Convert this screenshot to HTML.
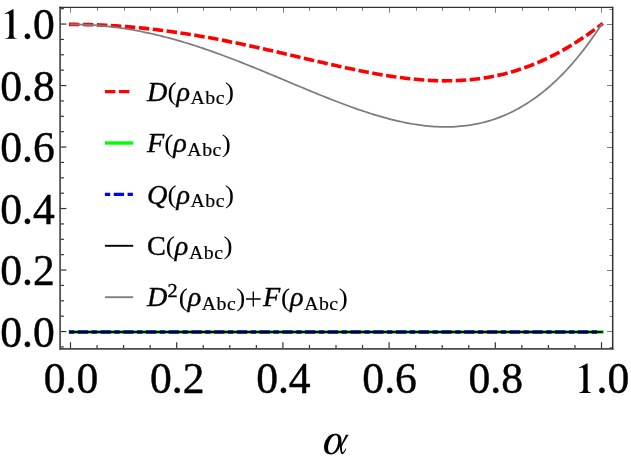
<!DOCTYPE html>
<html><head><meta charset="utf-8"><title>plot</title>
<style>
html,body{margin:0;padding:0;background:#fff;}
body{width:631px;height:466px;overflow:hidden;}
svg{display:block;will-change:transform;}
text{font-family:"Liberation Serif",serif;fill:#000;}
.tk{font-size:43.6px;stroke:#000;stroke-width:0.45px;stroke-linejoin:round;}
.lg{font-size:26.5px;stroke:#000;stroke-width:0.35px;}
.it{font-style:italic;}
.sb{font-size:18.6px;letter-spacing:0.47px;stroke-width:0.2px;}
.sp{font-size:19px;}
.pr{font-size:25.5px;stroke-width:0;}
.hid{fill:none;stroke:none;}
.ax{font-size:46px;font-style:italic;}
</style></head><body>
<svg width="631" height="466" viewBox="0 0 631 466">
<rect x="0" y="0" width="631" height="466" fill="#fff"/>
<!-- curves -->
<path d="M68.90 24.40 L73.16 24.41 L75.81 24.42 L78.47 24.45 L81.12 24.48 L83.78 24.53 L86.43 24.58 L89.09 24.65 L91.74 24.73 L94.39 24.81 L97.05 24.91 L99.70 25.02 L102.36 25.14 L105.02 25.26 L107.67 25.40 L110.32 25.55 L112.98 25.71 L115.64 25.87 L118.29 26.05 L120.94 26.24 L123.60 26.44 L126.25 26.64 L128.91 26.86 L131.56 27.09 L134.22 27.32 L136.88 27.57 L139.53 27.83 L142.19 28.09 L144.84 28.36 L147.50 28.65 L150.15 28.94 L152.81 29.24 L155.46 29.56 L158.12 29.88 L160.77 30.21 L163.43 30.55 L166.08 30.90 L168.74 31.25 L171.39 31.62 L174.05 31.99 L176.70 32.38 L179.35 32.77 L182.01 33.17 L184.66 33.57 L187.32 33.99 L189.98 34.42 L192.63 34.85 L195.28 35.29 L197.94 35.74 L200.59 36.19 L203.25 36.66 L205.91 37.13 L208.56 37.60 L211.22 38.09 L213.87 38.58 L216.53 39.08 L219.18 39.59 L221.83 40.10 L224.49 40.62 L227.14 41.14 L229.80 41.67 L232.45 42.21 L235.11 42.76 L237.77 43.30 L240.42 43.86 L243.08 44.42 L245.73 44.98 L248.39 45.55 L251.04 46.13 L253.69 46.70 L256.35 47.29 L259.00 47.88 L261.66 48.47 L264.31 49.06 L266.97 49.66 L269.62 50.26 L272.28 50.87 L274.94 51.47 L277.59 52.08 L280.25 52.70 L282.90 53.31 L285.56 53.93 L288.21 54.55 L290.87 55.16 L293.52 55.78 L296.17 56.41 L298.83 57.03 L301.49 57.65 L304.14 58.27 L306.80 58.89 L309.45 59.51 L312.11 60.13 L314.76 60.75 L317.42 61.36 L320.07 61.98 L322.73 62.59 L325.38 63.20 L328.03 63.80 L330.69 64.40 L333.34 65.00 L336.00 65.60 L338.66 66.19 L341.31 66.77 L343.97 67.35 L346.62 67.92 L349.28 68.49 L351.93 69.05 L354.59 69.60 L357.24 70.15 L359.90 70.69 L362.55 71.22 L365.21 71.74 L367.86 72.25 L370.51 72.75 L373.17 73.24 L375.82 73.73 L378.48 74.19 L381.13 74.65 L383.79 75.10 L386.44 75.53 L389.10 75.95 L391.75 76.36 L394.41 76.75 L397.06 77.13 L399.72 77.49 L402.38 77.84 L405.03 78.17 L407.69 78.49 L410.34 78.78 L413.00 79.06 L415.65 79.32 L418.31 79.57 L420.96 79.79 L423.62 79.99 L426.27 80.17 L428.93 80.33 L431.58 80.47 L434.24 80.59 L436.89 80.68 L439.54 80.75 L442.20 80.80 L444.85 80.83 L447.51 80.82 L450.16 80.80 L452.82 80.74 L455.47 80.66 L458.13 80.56 L460.78 80.42 L463.44 80.26 L466.09 80.07 L468.75 79.85 L471.41 79.60 L474.06 79.32 L476.72 79.01 L479.37 78.67 L482.03 78.30 L484.68 77.89 L487.34 77.46 L489.99 76.99 L492.65 76.49 L495.30 75.95 L497.96 75.38 L500.61 74.78 L503.26 74.14 L505.92 73.47 L508.57 72.77 L511.23 72.02 L513.88 71.24 L516.54 70.43 L519.19 69.58 L521.85 68.69 L524.50 67.77 L527.16 66.81 L529.82 65.81 L532.47 64.77 L535.12 63.70 L537.78 62.59 L540.43 61.44 L543.09 60.25 L545.75 59.02 L548.40 57.76 L551.06 56.46 L553.71 55.12 L556.37 53.74 L559.02 52.32 L561.67 50.86 L564.33 49.37 L566.99 47.83 L569.64 46.26 L572.29 44.65 L574.95 43.00 L577.61 41.31 L580.26 39.59 L582.91 37.82 L585.57 36.02 L588.23 34.18 L590.88 32.30 L593.53 30.38 L596.19 28.42 L598.85 26.43 L602.77 23.43" fill="none" stroke="#f00" stroke-width="3.6" stroke-dasharray="10.5 3.5" stroke-linejoin="round"/>
<path d="M69.90 24.40 L73.16 24.41 L75.81 24.44 L78.47 24.49 L81.12 24.56 L83.78 24.66 L86.43 24.77 L89.09 24.90 L91.74 25.05 L94.39 25.23 L97.05 25.42 L99.70 25.64 L102.36 25.87 L105.02 26.12 L107.67 26.40 L110.32 26.69 L112.98 27.01 L115.64 27.34 L118.29 27.69 L120.94 28.07 L123.60 28.46 L126.25 28.87 L128.91 29.30 L131.56 29.75 L134.22 30.22 L136.88 30.71 L139.53 31.21 L142.19 31.74 L144.84 32.28 L147.50 32.84 L150.15 33.42 L152.81 34.01 L155.46 34.63 L158.12 35.26 L160.77 35.91 L163.43 36.57 L166.08 37.25 L168.74 37.95 L171.39 38.67 L174.05 39.40 L176.70 40.14 L179.35 40.91 L182.01 41.68 L184.66 42.48 L187.32 43.28 L189.98 44.11 L192.63 44.94 L195.28 45.79 L197.94 46.66 L200.59 47.53 L203.25 48.42 L205.91 49.33 L208.56 50.24 L211.22 51.17 L213.87 52.11 L216.53 53.06 L219.18 54.02 L221.83 55.00 L224.49 55.98 L227.14 56.98 L229.80 57.98 L232.45 58.99 L235.11 60.01 L237.77 61.05 L240.42 62.08 L243.08 63.13 L245.73 64.19 L248.39 65.25 L251.04 66.32 L253.69 67.39 L256.35 68.47 L259.00 69.56 L261.66 70.65 L264.31 71.75 L266.97 72.84 L269.62 73.95 L272.28 75.05 L274.94 76.16 L277.59 77.28 L280.25 78.39 L282.90 79.50 L285.56 80.62 L288.21 81.74 L290.87 82.85 L293.52 83.97 L296.17 85.08 L298.83 86.19 L301.49 87.30 L304.14 88.41 L306.80 89.51 L309.45 90.61 L312.11 91.71 L314.76 92.80 L317.42 93.88 L320.07 94.96 L322.73 96.03 L325.38 97.10 L328.03 98.16 L330.69 99.21 L333.34 100.24 L336.00 101.27 L338.66 102.29 L341.31 103.30 L343.97 104.30 L346.62 105.29 L349.28 106.26 L351.93 107.22 L354.59 108.16 L357.24 109.09 L359.90 110.01 L362.55 110.91 L365.21 111.79 L367.86 112.65 L370.51 113.50 L373.17 114.33 L375.82 115.14 L378.48 115.93 L381.13 116.69 L383.79 117.44 L386.44 118.16 L389.10 118.86 L391.75 119.54 L394.41 120.19 L397.06 120.82 L399.72 121.42 L402.38 122.00 L405.03 122.54 L407.69 123.06 L410.34 123.55 L413.00 124.01 L415.65 124.44 L418.31 124.83 L420.96 125.20 L423.62 125.53 L426.27 125.83 L428.93 126.09 L431.58 126.32 L434.24 126.51 L436.89 126.67 L439.54 126.78 L442.20 126.86 L444.85 126.90 L447.51 126.89 L450.16 126.85 L452.82 126.76 L455.47 126.63 L458.13 126.46 L460.78 126.24 L463.44 125.97 L466.09 125.66 L468.75 125.30 L471.41 124.89 L474.06 124.43 L476.72 123.92 L479.37 123.36 L482.03 122.75 L484.68 122.08 L487.34 121.36 L489.99 120.59 L492.65 119.75 L495.30 118.86 L497.96 117.92 L500.61 116.91 L503.26 115.84 L505.92 114.71 L508.57 113.52 L511.23 112.27 L513.88 110.95 L516.54 109.57 L519.19 108.12 L521.85 106.60 L524.50 105.02 L527.16 103.36 L529.82 101.64 L532.47 99.84 L535.12 97.97 L537.78 96.03 L540.43 94.01 L543.09 91.92 L545.75 89.75 L548.40 87.50 L551.06 85.17 L553.71 82.76 L556.37 80.27 L559.02 77.70 L561.67 75.05 L564.33 72.31 L566.99 69.48 L569.64 66.57 L572.29 63.57 L574.95 60.48 L577.61 57.30 L580.26 54.02 L582.91 50.66 L585.57 47.20 L588.23 43.64 L590.88 39.99 L593.53 36.24 L596.19 32.40 L598.85 28.45 L601.83 23.90" fill="none" stroke="#7c7c7c" stroke-width="1.75" stroke-linejoin="round"/>
<line x1="68.9" y1="332" x2="603.6" y2="332" stroke="#0f0" stroke-width="3.7"/>
<line x1="68.9" y1="332" x2="600.2" y2="332" stroke="#00f" stroke-width="3.7" stroke-dasharray="5.3 3.55 10.33 3.55"/>
<line x1="69.8" y1="332" x2="602.9" y2="332" stroke="#000" stroke-width="2"/>
<!-- frame -->
<line x1="70.50" y1="348.8" x2="70.50" y2="342.20" stroke="#333" stroke-width="1.2"/>
<line x1="70.50" y1="7.3" x2="70.50" y2="12.70" stroke="#7a7a7a" stroke-width="1"/>
<line x1="97.05" y1="348.8" x2="97.05" y2="344.90" stroke="#333" stroke-width="1.2"/>
<line x1="97.50" y1="7.3" x2="97.50" y2="10.70" stroke="#7a7a7a" stroke-width="1"/>
<line x1="123.60" y1="348.8" x2="123.60" y2="344.90" stroke="#333" stroke-width="1.2"/>
<line x1="124.50" y1="7.3" x2="124.50" y2="10.70" stroke="#7a7a7a" stroke-width="1"/>
<line x1="150.15" y1="348.8" x2="150.15" y2="344.90" stroke="#333" stroke-width="1.2"/>
<line x1="150.50" y1="7.3" x2="150.50" y2="10.70" stroke="#7a7a7a" stroke-width="1"/>
<line x1="176.70" y1="348.8" x2="176.70" y2="342.20" stroke="#333" stroke-width="1.2"/>
<line x1="177.50" y1="7.3" x2="177.50" y2="12.70" stroke="#7a7a7a" stroke-width="1"/>
<line x1="203.25" y1="348.8" x2="203.25" y2="344.90" stroke="#333" stroke-width="1.2"/>
<line x1="203.50" y1="7.3" x2="203.50" y2="10.70" stroke="#7a7a7a" stroke-width="1"/>
<line x1="229.80" y1="348.8" x2="229.80" y2="344.90" stroke="#333" stroke-width="1.2"/>
<line x1="230.50" y1="7.3" x2="230.50" y2="10.70" stroke="#7a7a7a" stroke-width="1"/>
<line x1="256.35" y1="348.8" x2="256.35" y2="344.90" stroke="#333" stroke-width="1.2"/>
<line x1="256.50" y1="7.3" x2="256.50" y2="10.70" stroke="#7a7a7a" stroke-width="1"/>
<line x1="282.90" y1="348.8" x2="282.90" y2="342.20" stroke="#333" stroke-width="1.2"/>
<line x1="283.50" y1="7.3" x2="283.50" y2="12.70" stroke="#7a7a7a" stroke-width="1"/>
<line x1="309.45" y1="348.8" x2="309.45" y2="344.90" stroke="#333" stroke-width="1.2"/>
<line x1="309.50" y1="7.3" x2="309.50" y2="10.70" stroke="#7a7a7a" stroke-width="1"/>
<line x1="336.00" y1="348.8" x2="336.00" y2="344.90" stroke="#333" stroke-width="1.2"/>
<line x1="336.50" y1="7.3" x2="336.50" y2="10.70" stroke="#7a7a7a" stroke-width="1"/>
<line x1="362.55" y1="348.8" x2="362.55" y2="344.90" stroke="#333" stroke-width="1.2"/>
<line x1="362.50" y1="7.3" x2="362.50" y2="10.70" stroke="#7a7a7a" stroke-width="1"/>
<line x1="389.10" y1="348.8" x2="389.10" y2="342.20" stroke="#333" stroke-width="1.2"/>
<line x1="389.50" y1="7.3" x2="389.50" y2="12.70" stroke="#7a7a7a" stroke-width="1"/>
<line x1="415.65" y1="348.8" x2="415.65" y2="344.90" stroke="#333" stroke-width="1.2"/>
<line x1="416.50" y1="7.3" x2="416.50" y2="10.70" stroke="#7a7a7a" stroke-width="1"/>
<line x1="442.20" y1="348.8" x2="442.20" y2="344.90" stroke="#333" stroke-width="1.2"/>
<line x1="442.50" y1="7.3" x2="442.50" y2="10.70" stroke="#7a7a7a" stroke-width="1"/>
<line x1="468.75" y1="348.8" x2="468.75" y2="344.90" stroke="#333" stroke-width="1.2"/>
<line x1="469.50" y1="7.3" x2="469.50" y2="10.70" stroke="#7a7a7a" stroke-width="1"/>
<line x1="495.30" y1="348.8" x2="495.30" y2="342.20" stroke="#333" stroke-width="1.2"/>
<line x1="495.50" y1="7.3" x2="495.50" y2="12.70" stroke="#7a7a7a" stroke-width="1"/>
<line x1="521.85" y1="348.8" x2="521.85" y2="344.90" stroke="#333" stroke-width="1.2"/>
<line x1="522.50" y1="7.3" x2="522.50" y2="10.70" stroke="#7a7a7a" stroke-width="1"/>
<line x1="548.40" y1="348.8" x2="548.40" y2="344.90" stroke="#333" stroke-width="1.2"/>
<line x1="548.50" y1="7.3" x2="548.50" y2="10.70" stroke="#7a7a7a" stroke-width="1"/>
<line x1="574.95" y1="348.8" x2="574.95" y2="344.90" stroke="#333" stroke-width="1.2"/>
<line x1="575.50" y1="7.3" x2="575.50" y2="10.70" stroke="#7a7a7a" stroke-width="1"/>
<line x1="601.50" y1="348.8" x2="601.50" y2="342.20" stroke="#333" stroke-width="1.2"/>
<line x1="601.50" y1="7.3" x2="601.50" y2="12.70" stroke="#7a7a7a" stroke-width="1"/>
<line x1="60.1" y1="346.92" x2="63.90" y2="346.92" stroke="#333" stroke-width="1.2"/>
<line x1="612.5" y1="347.50" x2="609.50" y2="347.50" stroke="#7a7a7a" stroke-width="1"/>
<line x1="60.1" y1="331.55" x2="66.40" y2="331.55" stroke="#333" stroke-width="1.2"/>
<line x1="612.5" y1="331.50" x2="607.00" y2="331.50" stroke="#7a7a7a" stroke-width="1"/>
<line x1="60.1" y1="316.17" x2="63.90" y2="316.17" stroke="#333" stroke-width="1.2"/>
<line x1="612.5" y1="316.50" x2="609.50" y2="316.50" stroke="#7a7a7a" stroke-width="1"/>
<line x1="60.1" y1="300.80" x2="63.90" y2="300.80" stroke="#333" stroke-width="1.2"/>
<line x1="612.5" y1="301.50" x2="609.50" y2="301.50" stroke="#7a7a7a" stroke-width="1"/>
<line x1="60.1" y1="285.42" x2="63.90" y2="285.42" stroke="#333" stroke-width="1.2"/>
<line x1="612.5" y1="285.50" x2="609.50" y2="285.50" stroke="#7a7a7a" stroke-width="1"/>
<line x1="60.1" y1="270.05" x2="66.40" y2="270.05" stroke="#333" stroke-width="1.2"/>
<line x1="612.5" y1="270.50" x2="607.00" y2="270.50" stroke="#7a7a7a" stroke-width="1"/>
<line x1="60.1" y1="254.67" x2="63.90" y2="254.67" stroke="#333" stroke-width="1.2"/>
<line x1="612.5" y1="255.50" x2="609.50" y2="255.50" stroke="#7a7a7a" stroke-width="1"/>
<line x1="60.1" y1="239.30" x2="63.90" y2="239.30" stroke="#333" stroke-width="1.2"/>
<line x1="612.5" y1="239.50" x2="609.50" y2="239.50" stroke="#7a7a7a" stroke-width="1"/>
<line x1="60.1" y1="223.92" x2="63.90" y2="223.92" stroke="#333" stroke-width="1.2"/>
<line x1="612.5" y1="224.50" x2="609.50" y2="224.50" stroke="#7a7a7a" stroke-width="1"/>
<line x1="60.1" y1="208.55" x2="66.40" y2="208.55" stroke="#333" stroke-width="1.2"/>
<line x1="612.5" y1="208.50" x2="607.00" y2="208.50" stroke="#7a7a7a" stroke-width="1"/>
<line x1="60.1" y1="193.17" x2="63.90" y2="193.17" stroke="#333" stroke-width="1.2"/>
<line x1="612.5" y1="193.50" x2="609.50" y2="193.50" stroke="#7a7a7a" stroke-width="1"/>
<line x1="60.1" y1="177.80" x2="63.90" y2="177.80" stroke="#333" stroke-width="1.2"/>
<line x1="612.5" y1="178.50" x2="609.50" y2="178.50" stroke="#7a7a7a" stroke-width="1"/>
<line x1="60.1" y1="162.42" x2="63.90" y2="162.42" stroke="#333" stroke-width="1.2"/>
<line x1="612.5" y1="162.50" x2="609.50" y2="162.50" stroke="#7a7a7a" stroke-width="1"/>
<line x1="60.1" y1="147.05" x2="66.40" y2="147.05" stroke="#333" stroke-width="1.2"/>
<line x1="612.5" y1="147.50" x2="607.00" y2="147.50" stroke="#7a7a7a" stroke-width="1"/>
<line x1="60.1" y1="131.67" x2="63.90" y2="131.67" stroke="#333" stroke-width="1.2"/>
<line x1="612.5" y1="132.50" x2="609.50" y2="132.50" stroke="#7a7a7a" stroke-width="1"/>
<line x1="60.1" y1="116.30" x2="63.90" y2="116.30" stroke="#333" stroke-width="1.2"/>
<line x1="612.5" y1="116.50" x2="609.50" y2="116.50" stroke="#7a7a7a" stroke-width="1"/>
<line x1="60.1" y1="100.92" x2="63.90" y2="100.92" stroke="#333" stroke-width="1.2"/>
<line x1="612.5" y1="101.50" x2="609.50" y2="101.50" stroke="#7a7a7a" stroke-width="1"/>
<line x1="60.1" y1="85.55" x2="66.40" y2="85.55" stroke="#333" stroke-width="1.2"/>
<line x1="612.5" y1="85.50" x2="607.00" y2="85.50" stroke="#7a7a7a" stroke-width="1"/>
<line x1="60.1" y1="70.17" x2="63.90" y2="70.17" stroke="#333" stroke-width="1.2"/>
<line x1="612.5" y1="70.50" x2="609.50" y2="70.50" stroke="#7a7a7a" stroke-width="1"/>
<line x1="60.1" y1="54.80" x2="63.90" y2="54.80" stroke="#333" stroke-width="1.2"/>
<line x1="612.5" y1="55.50" x2="609.50" y2="55.50" stroke="#7a7a7a" stroke-width="1"/>
<line x1="60.1" y1="39.42" x2="63.90" y2="39.42" stroke="#333" stroke-width="1.2"/>
<line x1="612.5" y1="39.50" x2="609.50" y2="39.50" stroke="#7a7a7a" stroke-width="1"/>
<line x1="60.1" y1="24.05" x2="66.40" y2="24.05" stroke="#333" stroke-width="1.2"/>
<line x1="612.5" y1="24.50" x2="607.00" y2="24.50" stroke="#7a7a7a" stroke-width="1"/>
<line x1="60.1" y1="8.67" x2="63.90" y2="8.67" stroke="#333" stroke-width="1.2"/>
<line x1="612.5" y1="9.50" x2="609.50" y2="9.50" stroke="#7a7a7a" stroke-width="1"/>
<line x1="60.1" y1="6.7" x2="60.1" y2="349.6" stroke="#4a4a4a" stroke-width="1.7"/>
<line x1="59.300000000000004" y1="348.8" x2="613.4" y2="348.8" stroke="#4a4a4a" stroke-width="1.7"/>
<line x1="59.300000000000004" y1="7.3" x2="613.1" y2="7.3" stroke="#333" stroke-width="1.2"/>
<line x1="612.7" y1="6.7" x2="612.7" y2="349.6" stroke="#333" stroke-width="1.5"/>
<!-- labels -->
<text x="54.8" y="346.60" text-anchor="end" class="tk">0.0</text>
<text x="71.00" y="393.2" text-anchor="middle" class="tk">0.0</text>
<text x="54.8" y="285.10" text-anchor="end" class="tk">0.2</text>
<text x="177.20" y="393.2" text-anchor="middle" class="tk">0.2</text>
<text x="54.8" y="223.60" text-anchor="end" class="tk">0.4</text>
<text x="283.40" y="393.2" text-anchor="middle" class="tk">0.4</text>
<text x="54.8" y="162.10" text-anchor="end" class="tk">0.6</text>
<text x="389.60" y="393.2" text-anchor="middle" class="tk">0.6</text>
<text x="54.8" y="100.60" text-anchor="end" class="tk">0.8</text>
<text x="495.80" y="393.2" text-anchor="middle" class="tk">0.8</text>
<path transform="translate(0.00,5.00) scale(0.08569)" d="M158 50 L158 340 C158 375 165 385 195 387 L195 395 L62 395 L62 387 C95 385 108 375 108 340 L108 130 C108 105 100 98 90 98 C80 98 70 103 62 107 L58 99 L150 50 Z" fill="#000"/>
<text x="54.8" y="39.10" text-anchor="end" class="tk">.0</text>
<path transform="translate(574.10,359.10) scale(0.08569)" d="M158 50 L158 340 C158 375 165 385 195 387 L195 395 L62 395 L62 387 C95 385 108 375 108 340 L108 130 C108 105 100 98 90 98 C80 98 70 103 62 107 L58 99 L150 50 Z" fill="#000"/>
<text x="596.55" y="393.2" text-anchor="start" class="tk">.0</text>
<g transform="translate(318,428) scale(0.06868)" fill="#000">
<path fill-rule="evenodd" d="M250 85 C150 85 88 190 88 280 C88 350 130 385 190 385 C250 385 300 330 318 270 C322 320 328 350 338 372 C350 392 372 380 392 345 C402 328 408 312 410 300 L398 298 C392 320 375 350 362 352 C352 352 350 330 348 290 C346 250 344 200 340 160 C336 110 300 85 250 85 Z M256 104 C203 104 146 208 146 292 C146 338 164 364 196 364 C248 364 294 264 294 182 C294 134 284 104 256 104 Z"/>
<path d="M447 98 L406 98 C392 130 350 215 330 262 L346 268 C370 220 420 140 447 98 Z"/>
</g>
<!-- legend -->
<line x1="104.9" y1="91.6" x2="129.4" y2="91.6" stroke="#f00" stroke-width="3.4" stroke-dasharray="10.5 3.5"/>
<line x1="104.9" y1="143.0" x2="133.2" y2="143.0" stroke="#0f0" stroke-width="3.4"/>
<line x1="104.9" y1="194.4" x2="133.2" y2="194.4" stroke="#00f" stroke-width="3.4" stroke-dasharray="5.3 3.55 10.3 3.55"/>
<line x1="104.9" y1="245.8" x2="133.2" y2="245.8" stroke="#000" stroke-width="1.9"/>
<line x1="104.9" y1="297.2" x2="133.2" y2="297.2" stroke="#808080" stroke-width="1.9"/>
<text transform="translate(147,100.70) scale(1.065,1)" x="0" y="0" class="lg"><tspan class="it">D</tspan><tspan class="pr" dy="-0.55">(</tspan><tspan class="it" dy="0.55">ρ</tspan><tspan class="sb" dy="3.60" dx="0.5">Abc</tspan><tspan class="pr" dy="-4.15">)</tspan></text>
<text transform="translate(147,152.10) scale(1.065,1)" x="0" y="0" class="lg"><tspan class="it">F</tspan><tspan class="pr" dy="-0.55">(</tspan><tspan class="it" dy="0.55">ρ</tspan><tspan class="sb" dy="3.60" dx="0.5">Abc</tspan><tspan class="pr" dy="-4.15">)</tspan></text>
<text transform="translate(147,203.50) scale(1.065,1)" x="0" y="0" class="lg"><tspan class="it">Q</tspan><tspan class="pr" dy="-0.55">(</tspan><tspan class="it" dy="0.55">ρ</tspan><tspan class="sb" dy="3.60" dx="0.5">Abc</tspan><tspan class="pr" dy="-4.15">)</tspan></text>
<text transform="translate(147,254.90) scale(1.065,1)" x="0" y="0" class="lg"><tspan>C</tspan><tspan class="pr" dy="-0.55">(</tspan><tspan class="it" dy="0.55">ρ</tspan><tspan class="sb" dy="3.60" dx="0.5">Abc</tspan><tspan class="pr" dy="-4.15">)</tspan></text>
<text transform="translate(147,306.30) scale(1.065,1)" x="0" y="0" class="lg"><tspan class="it">D</tspan><tspan class="sp" dy="-9.00">2</tspan><tspan class="pr" dy="8.45" dx="1.1">(</tspan><tspan class="it" dy="0.55">ρ</tspan><tspan class="sb" dy="3.60" dx="0.5">Abc</tspan><tspan class="pr" dy="-4.15">)</tspan><tspan class="hid" dy="0.55">+</tspan><tspan class="it" dx="1.6">F</tspan><tspan class="pr" dy="-0.55" dx="0.8">(</tspan><tspan class="it" dy="0.55">ρ</tspan><tspan class="sb" dy="3.60" dx="0.5">Abc</tspan><tspan class="pr" dy="-4.15">)</tspan></text>
<path d="M246.0 298.95 H260.7 M253.3 291.6 V306.4" stroke="#000" stroke-width="1.35" fill="none"/>
</svg>
</body></html>
